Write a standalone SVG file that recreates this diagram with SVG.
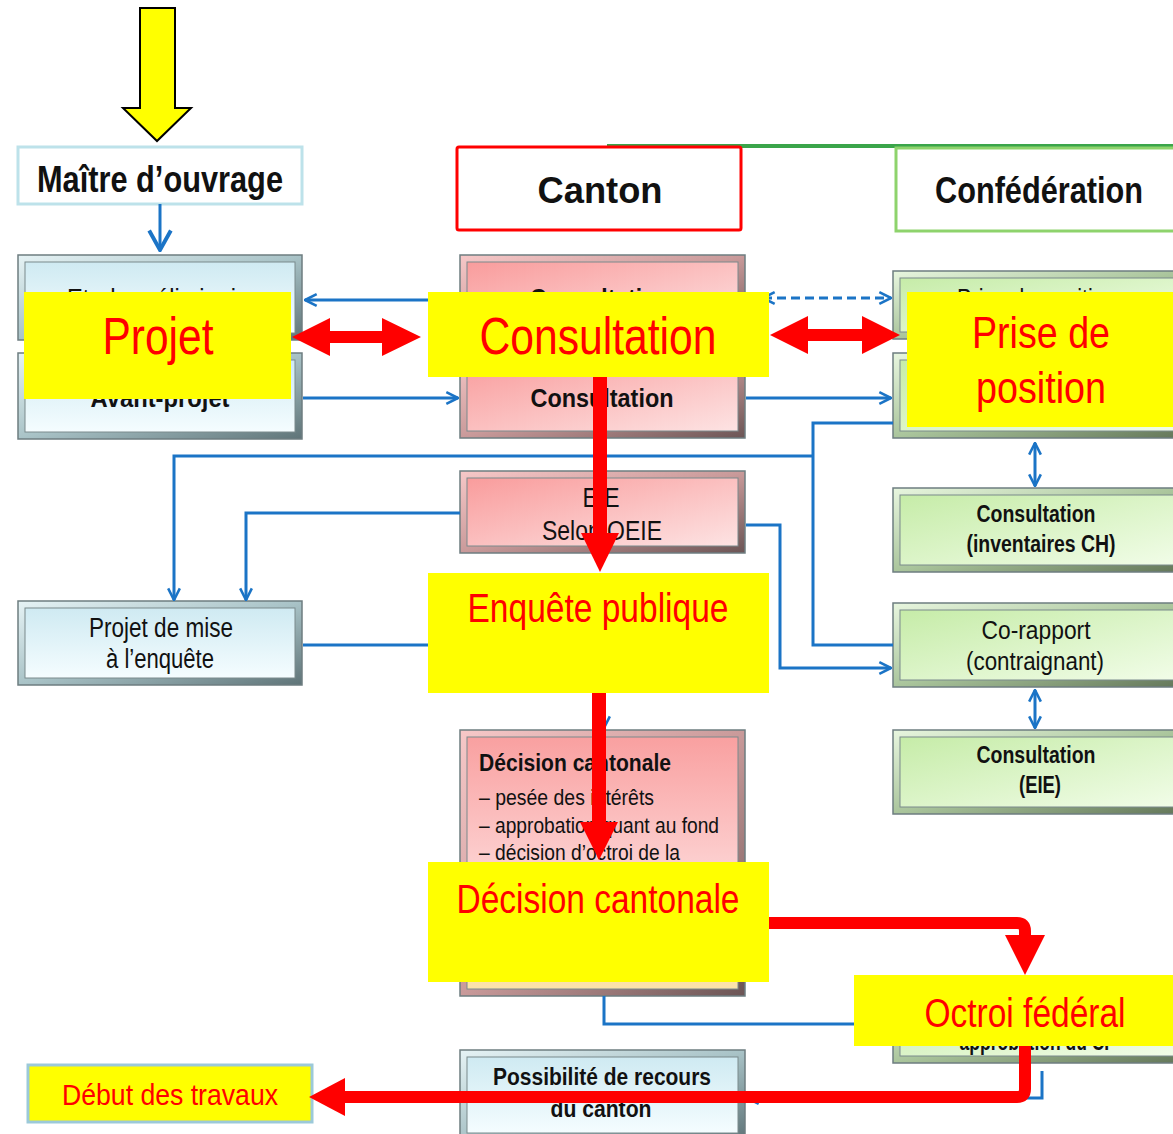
<svg xmlns="http://www.w3.org/2000/svg" width="1173" height="1134" viewBox="0 0 1173 1134">
<defs>
<linearGradient id="fB" x1="0" y1="0" x2="1" y2="1"><stop offset="0" stop-color="#e6f3f5"/><stop offset="0.5" stop-color="#a9c3c7"/><stop offset="1" stop-color="#5f7478"/></linearGradient>
<linearGradient id="faB" x1="0" y1="0" x2="0" y2="1"><stop offset="0" stop-color="#cfeaf2"/><stop offset="1" stop-color="#f5fdff"/></linearGradient>
<linearGradient id="fP" x1="0" y1="0" x2="1" y2="1"><stop offset="0" stop-color="#f7c8c8"/><stop offset="0.5" stop-color="#c99a9a"/><stop offset="1" stop-color="#6b5555"/></linearGradient>
<linearGradient id="faP" x1="0" y1="0" x2="1" y2="1"><stop offset="0" stop-color="#f99c9c"/><stop offset="1" stop-color="#fde3e3"/></linearGradient>
<linearGradient id="faD" x1="0" y1="0" x2="0" y2="1"><stop offset="0" stop-color="#f9a0a0"/><stop offset="0.6" stop-color="#fdd8d8"/><stop offset="1" stop-color="#fbe2a8"/></linearGradient>
<linearGradient id="fG" x1="0" y1="0" x2="1" y2="1"><stop offset="0" stop-color="#e8f6df"/><stop offset="0.5" stop-color="#aac59c"/><stop offset="1" stop-color="#627558"/></linearGradient>
<linearGradient id="faG" x1="0" y1="0" x2="1" y2="1"><stop offset="0" stop-color="#c6eca8"/><stop offset="1" stop-color="#f2fde9"/></linearGradient>
<marker id="ah" viewBox="0 0 12 12" refX="11" refY="6" markerWidth="14" markerHeight="14" markerUnits="userSpaceOnUse" orient="auto-start-reverse"><path d="M1,1 L11,6 L1,11" fill="none" stroke="#1b74c6" stroke-width="2.2"/></marker>
<marker id="ahBig" viewBox="0 0 12 12" refX="11" refY="6" markerWidth="26" markerHeight="26" markerUnits="userSpaceOnUse" orient="auto"><path d="M2,1 L11,6 L2,11" fill="none" stroke="#1b74c6" stroke-width="1.8"/></marker>
</defs>
<style>
.fr{stroke:#6e7d80;stroke-width:1.5}
.face{stroke:#7a8a8c;stroke-width:1}
.bl{fill:none;stroke:#1b74c6;stroke-width:3}
.yl{fill:#ffff00}
.t{font-family:"Liberation Sans Narrow","Liberation Sans",Arial,sans-serif;fill:#111}
.b{font-weight:bold}
.r{font-family:"Liberation Sans Narrow","Liberation Sans",Arial,sans-serif;fill:#ff0000}
.red{fill:#ff0000}
.rs{fill:none;stroke:#ff0000;stroke-width:12}
</style>

<!-- yellow entry arrow -->
<g id="entry">
<polygon points="140,8 175,8 175,108 191,108 157,141 123,108 140,108" fill="#ffff00" stroke="#000" stroke-width="2"/>
</g>

<!-- headers -->
<g id="maitre">
<rect x="18" y="147" width="284" height="57" fill="#fff" stroke="#bde2ea" stroke-width="3"/>
<text class="t b" x="160" y="192" font-size="36" text-anchor="middle" textLength="246" lengthAdjust="spacingAndGlyphs">Maître d’ouvrage</text>
</g>
<path d="M607,146 H1173" stroke="#3aa54a" stroke-width="4"/>
<g id="canton">
<rect x="457" y="147" width="284" height="83" rx="2" fill="#fff" stroke="#ff0000" stroke-width="3"/>
<text class="t b" x="600" y="203" font-size="36" text-anchor="middle" textLength="125" lengthAdjust="spacingAndGlyphs">Canton</text>
</g>
<g id="confederation">
<rect x="896" y="148" width="290" height="83" fill="#fff" stroke="#8ed36c" stroke-width="3"/>
<text class="t b" x="1039" y="203" font-size="36" text-anchor="middle" textLength="208" lengthAdjust="spacingAndGlyphs">Confédération</text>
</g>

<!-- left column -->
<g id="etude">
<rect class="fr" x="18" y="255" width="284" height="85" fill="url(#fB)"/>
<rect class="face" x="25" y="262" width="270" height="71" fill="url(#faB)"/>
<text class="t" x="162" y="307" font-size="26" text-anchor="middle" textLength="190" lengthAdjust="spacingAndGlyphs">Etude préliminaire</text>
</g>
<g id="avantprojet">
<rect class="fr" x="18" y="353" width="284" height="86" fill="url(#fB)"/>
<rect class="face" x="25" y="360" width="270" height="72" fill="url(#faB)"/>
<text class="t b" x="160" y="407" font-size="26" text-anchor="middle" textLength="139" lengthAdjust="spacingAndGlyphs">Avant-projet</text>
</g>
<g id="projetmise">
<rect class="fr" x="18" y="601" width="284" height="84" fill="url(#fB)"/>
<rect class="face" x="25" y="608" width="270" height="70" fill="url(#faB)"/>
<text class="t" x="161" y="637" font-size="27" text-anchor="middle" textLength="144" lengthAdjust="spacingAndGlyphs">Projet de mise</text>
<text class="t" x="160" y="668" font-size="27" text-anchor="middle" textLength="108" lengthAdjust="spacingAndGlyphs">à l’enquête</text>
</g>

<!-- middle column -->
<g id="consult1">
<rect class="fr" x="460" y="255" width="285" height="85" fill="url(#fP)"/>
<rect class="face" x="467" y="262" width="271" height="71" fill="url(#faP)"/>
<text class="t b" x="600" y="307" font-size="26" text-anchor="middle" textLength="140" lengthAdjust="spacingAndGlyphs">Consultation</text>
</g>
<g id="consult2">
<rect class="fr" x="460" y="352" width="285" height="86" fill="url(#fP)"/>
<rect class="face" x="467" y="359" width="271" height="72" fill="url(#faP)"/>
<text class="t b" x="602" y="407" font-size="26" text-anchor="middle" textLength="143" lengthAdjust="spacingAndGlyphs">Consultation</text>
</g>
<g id="eie">
<rect class="fr" x="460" y="471" width="285" height="82" fill="url(#fP)"/>
<rect class="face" x="467" y="478" width="271" height="68" fill="url(#faP)"/>
<text class="t" x="601" y="507" font-size="27" text-anchor="middle" textLength="37" lengthAdjust="spacingAndGlyphs">EIE</text>
<text class="t" x="602" y="540" font-size="27" text-anchor="middle" textLength="120" lengthAdjust="spacingAndGlyphs">Selon OEIE</text>
</g>
<g id="decision">
<rect class="fr" x="460" y="730" width="285" height="266" fill="url(#fP)"/>
<rect class="face" x="467" y="737" width="271" height="252" fill="url(#faD)"/>
<text class="t b" x="479" y="771" font-size="23" textLength="192" lengthAdjust="spacingAndGlyphs">Décision cantonale</text>
<text class="t" x="479" y="805" font-size="22" textLength="175" lengthAdjust="spacingAndGlyphs">– pesée des intérêts</text>
<text class="t" x="479" y="833" font-size="22" textLength="240" lengthAdjust="spacingAndGlyphs">– approbation quant au fond</text>
<text class="t" x="479" y="860" font-size="22" textLength="201" lengthAdjust="spacingAndGlyphs">– décision d’octroi de la</text>
</g>
<g id="recours">
<rect class="fr" x="460" y="1050" width="285" height="90" fill="url(#fB)"/>
<rect class="face" x="467" y="1057" width="271" height="76" fill="url(#faB)"/>
<text class="t b" x="602" y="1085" font-size="23" text-anchor="middle" textLength="218" lengthAdjust="spacingAndGlyphs">Possibilité de recours</text>
<text class="t b" x="601" y="1117" font-size="23" text-anchor="middle" textLength="101" lengthAdjust="spacingAndGlyphs">du canton</text>
</g>

<!-- right column -->
<g id="prise1">
<rect class="fr" x="893" y="271" width="292" height="68" fill="url(#fG)"/>
<rect class="face" x="900" y="278" width="285" height="54" fill="url(#faG)"/>
<text class="t" x="1037" y="307" font-size="26" text-anchor="middle" textLength="160" lengthAdjust="spacingAndGlyphs">Prise de position</text>
</g>
<g id="prise2">
<rect class="fr" x="893" y="353" width="292" height="85" fill="url(#fG)"/>
<rect class="face" x="900" y="360" width="285" height="71" fill="url(#faG)"/>
</g>
<g id="inventaires">
<rect class="fr" x="893" y="488" width="292" height="84" fill="url(#fG)"/>
<rect class="face" x="900" y="495" width="285" height="70" fill="url(#faG)"/>
<text class="t b" x="1036" y="522" font-size="23" text-anchor="middle" textLength="119" lengthAdjust="spacingAndGlyphs">Consultation</text>
<text class="t b" x="1041" y="552" font-size="23" text-anchor="middle" textLength="149" lengthAdjust="spacingAndGlyphs">(inventaires CH)</text>
</g>
<g id="corapport">
<rect class="fr" x="893" y="603" width="292" height="84" fill="url(#fG)"/>
<rect class="face" x="900" y="610" width="285" height="70" fill="url(#faG)"/>
<text class="t" x="1036" y="639" font-size="25" text-anchor="middle" textLength="109" lengthAdjust="spacingAndGlyphs">Co-rapport</text>
<text class="t" x="1035" y="670" font-size="25" text-anchor="middle" textLength="138" lengthAdjust="spacingAndGlyphs">(contraignant)</text>
</g>
<g id="consulteie">
<rect class="fr" x="893" y="730" width="292" height="84" fill="url(#fG)"/>
<rect class="face" x="900" y="737" width="285" height="70" fill="url(#faG)"/>
<text class="t b" x="1036" y="763" font-size="23" text-anchor="middle" textLength="119" lengthAdjust="spacingAndGlyphs">Consultation</text>
<text class="t b" x="1040" y="793" font-size="23" text-anchor="middle" textLength="42" lengthAdjust="spacingAndGlyphs">(EIE)</text>
</g>
<g id="octroibox">
<rect class="fr" x="893" y="985" width="292" height="78" fill="url(#fG)"/>
<rect class="face" x="900" y="992" width="285" height="64" fill="url(#faG)"/>
<text class="t b" x="945" y="1050" font-size="23" textLength="170" lengthAdjust="spacingAndGlyphs">– approbation du CF</text>
</g>

<!-- blue connectors -->
<g id="connectors">
<path class="bl" d="M160,204 V250" stroke-width="4" marker-end="url(#ahBig)"/>
<path class="bl" d="M428,300 H305" marker-end="url(#ah)"/>
<path class="bl" d="M763,298 H891" stroke-dasharray="9,5" marker-start="url(#ah)" marker-end="url(#ah)"/>
<path class="bl" d="M303,398 H458" marker-end="url(#ah)"/>
<path class="bl" d="M746,398 H891" marker-end="url(#ah)"/>
<path class="bl" d="M893,423 H813 V645 H893"/>
<path class="bl" d="M813,456 H174 V600" marker-end="url(#ah)"/>
<path class="bl" d="M460,513 H246 V600" marker-end="url(#ah)"/>
<path class="bl" d="M746,525 H780 V668 H891" marker-end="url(#ah)"/>
<path class="bl" d="M303,645 H430"/>
<path class="bl" d="M604,693 V728" marker-end="url(#ah)"/>
<path class="bl" d="M604,996 V1024 H856"/>
<path class="bl" d="M1042,1071 V1098 H747" marker-end="url(#ah)"/>
<path class="bl" d="M460,1097 H314" marker-end="url(#ah)"/>
<path class="bl" d="M1035,443 V486" marker-start="url(#ah)" marker-end="url(#ah)"/>
<path class="bl" d="M1035,690 V728" marker-start="url(#ah)" marker-end="url(#ah)"/>
</g>

<!-- yellow overlay labels -->
<g id="projet">
<rect class="yl" x="24" y="292" width="267" height="107"/>
<text class="r" x="158" y="354" font-size="52" text-anchor="middle" textLength="111" lengthAdjust="spacingAndGlyphs">Projet</text>
</g>
<g id="consultation">
<rect class="yl" x="428" y="292" width="341" height="85"/>
<text class="r" x="598" y="354" font-size="52" text-anchor="middle" textLength="237" lengthAdjust="spacingAndGlyphs">Consultation</text>
</g>
<g id="prise">
<rect class="yl" x="907" y="292" width="266" height="135"/>
<text class="r" x="1041" y="348" font-size="44" text-anchor="middle" textLength="138" lengthAdjust="spacingAndGlyphs">Prise de</text>
<text class="r" x="1041" y="403" font-size="44" text-anchor="middle" textLength="130" lengthAdjust="spacingAndGlyphs">position</text>
</g>
<g id="enquete">
<rect class="yl" x="428" y="573" width="341" height="120"/>
<text class="r" x="598" y="622" font-size="40" text-anchor="middle" textLength="261" lengthAdjust="spacingAndGlyphs">Enquête publique</text>
</g>
<g id="decisionlabel">
<rect class="yl" x="428" y="862" width="341" height="120"/>
<text class="r" x="598" y="913" font-size="40" text-anchor="middle" textLength="283" lengthAdjust="spacingAndGlyphs">Décision cantonale</text>
</g>
<g id="octroi">
<rect class="yl" x="854" y="975" width="319" height="71"/>
<text class="r" x="1025" y="1027" font-size="40" text-anchor="middle" textLength="201" lengthAdjust="spacingAndGlyphs">Octroi fédéral</text>
</g>
<g id="debut">
<rect x="28" y="1065" width="284" height="57" fill="#ffff00" stroke="#9cc9d9" stroke-width="3"/>
<text class="r" x="170" y="1105" font-size="29" text-anchor="middle" textLength="216" lengthAdjust="spacingAndGlyphs">Début des travaux</text>
</g>

<!-- red process arrows -->
<g id="red-arrows">
<polygon class="red" points="292,337 330,318 330,331 382,331 382,318 421,337 382,356 382,343 330,343 330,356"/>
<polygon class="red" points="770,335 808,316 808,329 862,329 862,316 900,335 862,354 862,341 808,341 808,354"/>
<rect class="red" x="593" y="377" width="14" height="157"/>
<polygon class="red" points="581,533 619,533 600,572"/>
<rect class="red" x="592" y="693" width="14" height="130"/>
<polygon class="red" points="580,822 618,822 599,860"/>
<path class="rs" d="M769,923 H1017 Q1025,923 1025,931 V937"/>
<polygon class="red" points="1005,935 1045,935 1025,975"/>
<path class="rs" d="M1025,1046 V1089 Q1025,1097 1017,1097 H343"/>
<polygon class="red" points="345,1078 309,1097 345,1116"/>
</g>
</svg>
